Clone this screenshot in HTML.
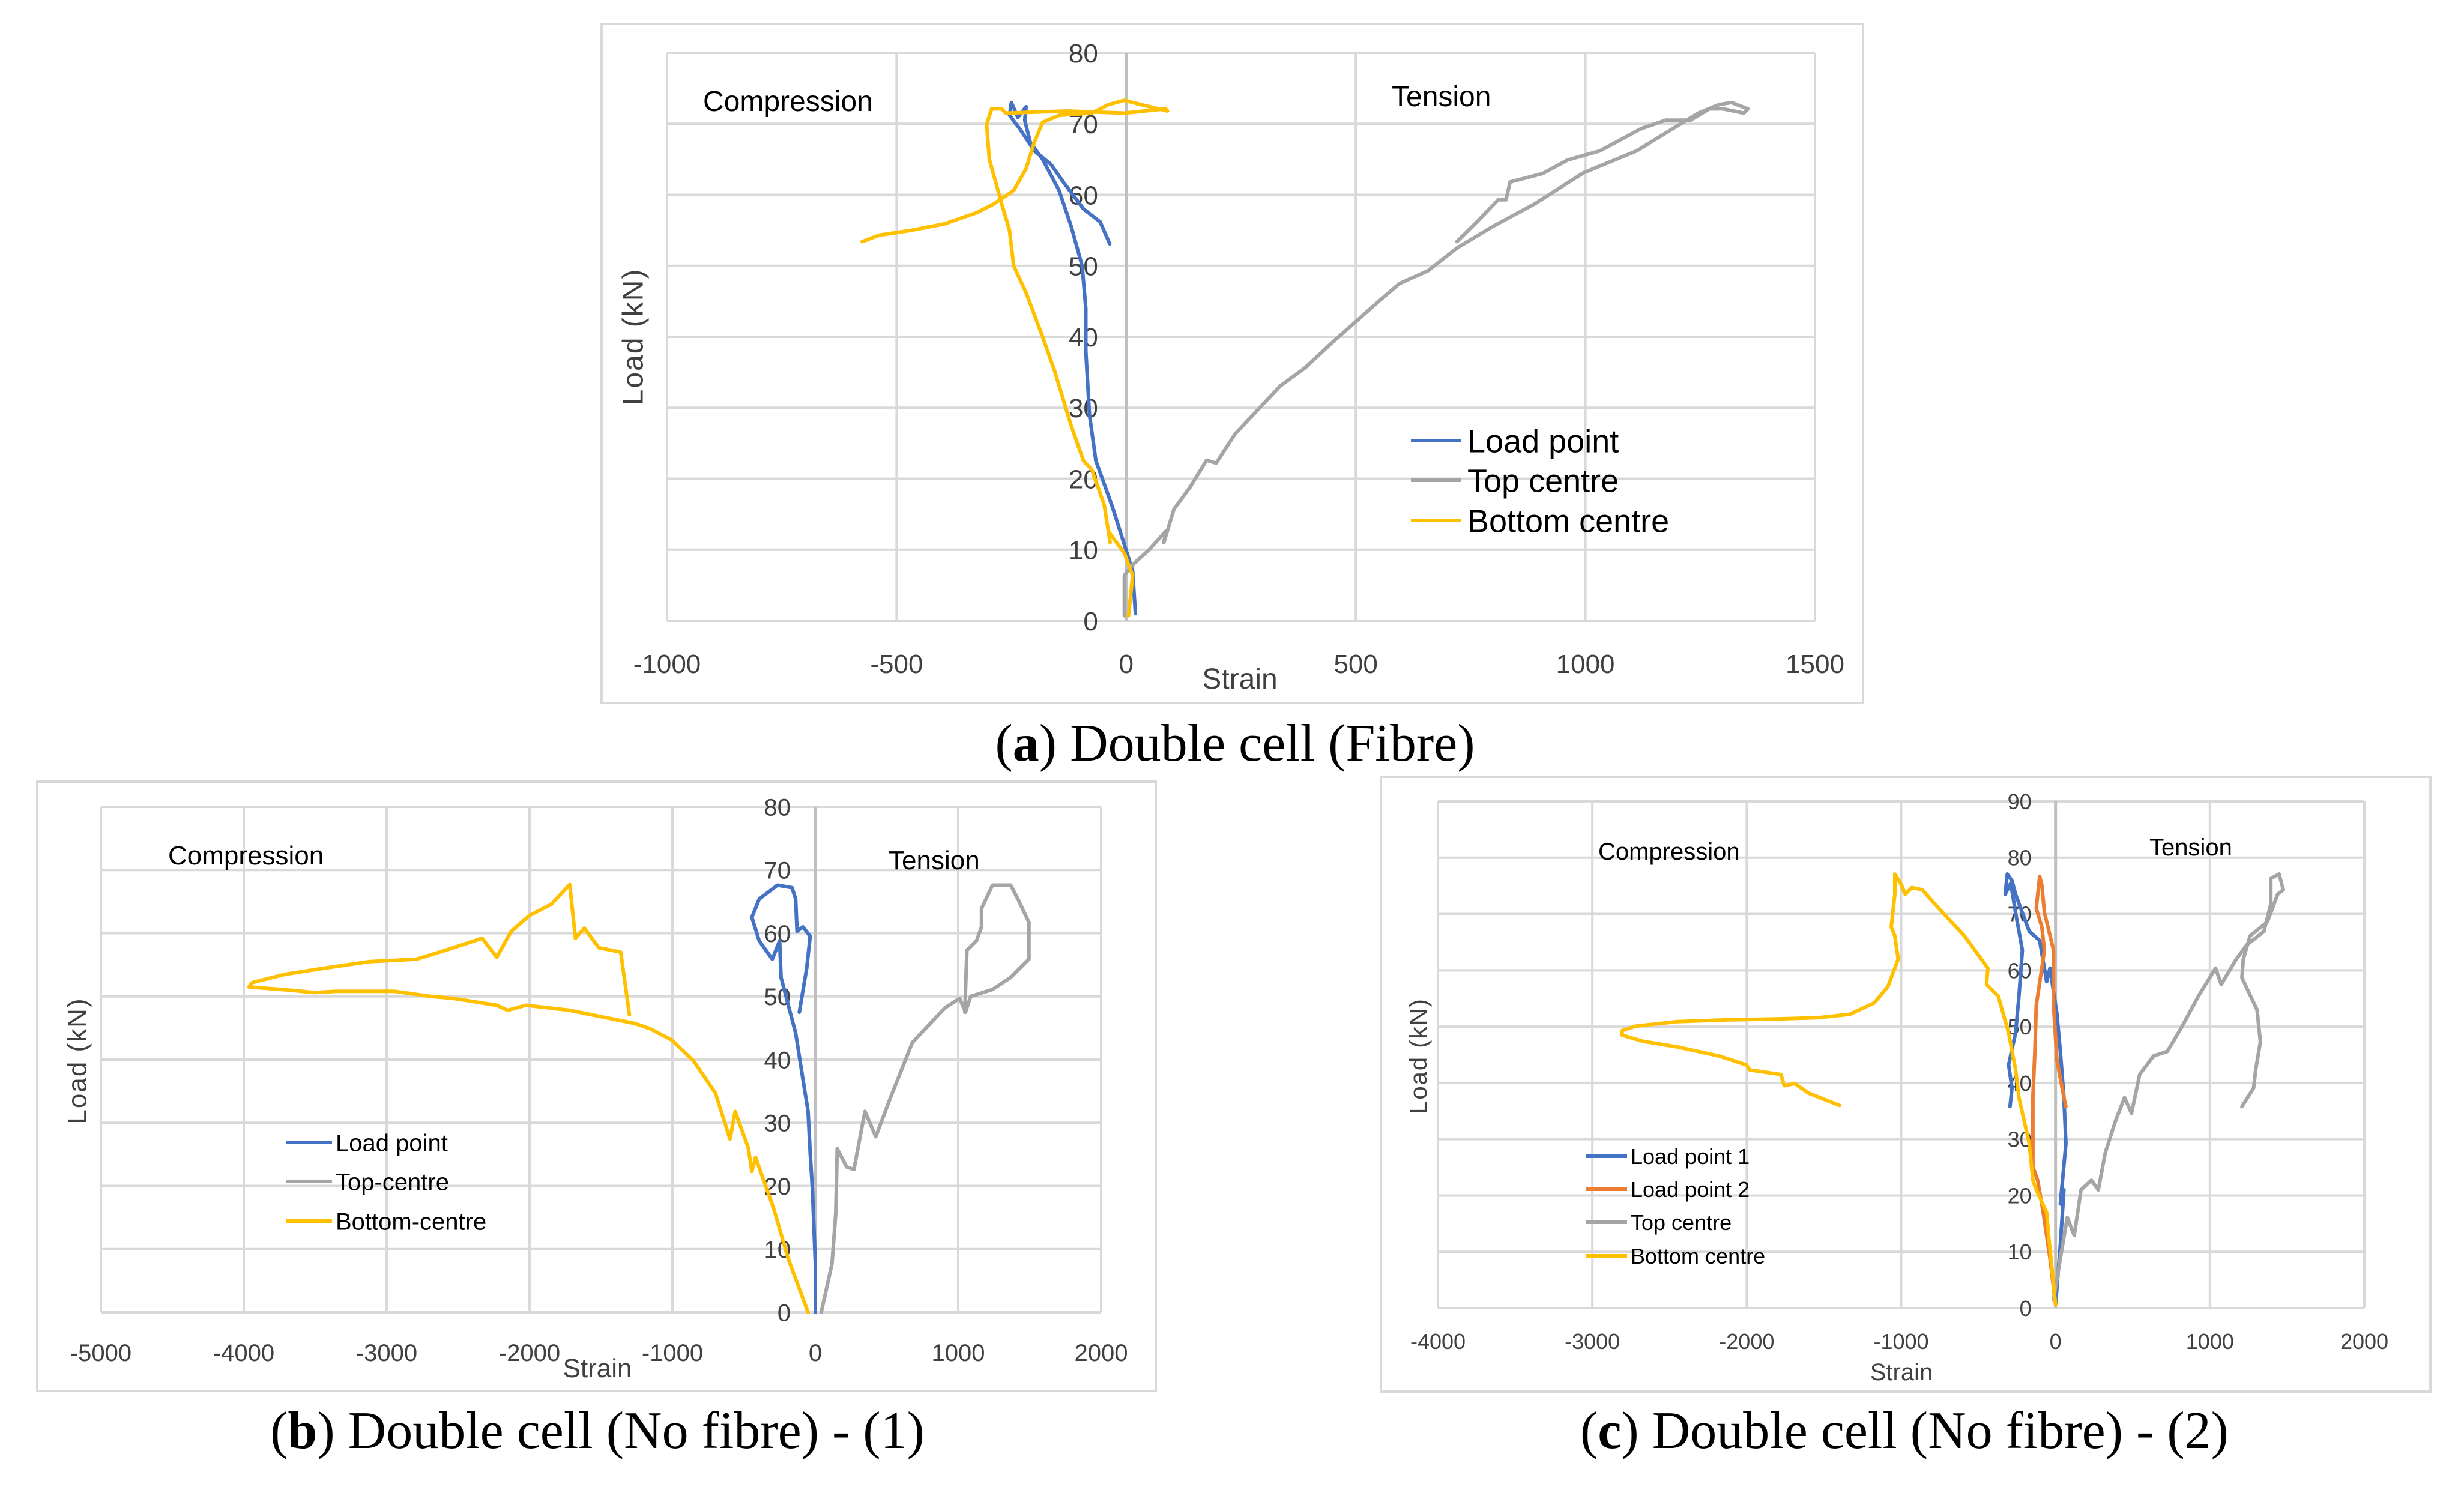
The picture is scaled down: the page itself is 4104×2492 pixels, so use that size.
<!DOCTYPE html>
<html><head><meta charset="utf-8"><style>
html,body{margin:0;padding:0;background:#fff;}
svg{display:block;}
</style></head><body>
<svg id="fig" xmlns="http://www.w3.org/2000/svg" width="4104" height="2492" viewBox="0 0 4104 2492" font-family="Liberation Sans, sans-serif">
<rect x="0" y="0" width="4104" height="2492" fill="#fff"/>
</svg>
<script>
// ---------- Chart (a) data ----------
const aYTicks = [0,10,20,30,40,50,60,70,80];
const aXTicks = [-1000,-500,0,500,1000,1500];
const aLoadPointStrain = [20,14,-30,-66,-80,-88,-88,-96,-120,-146,-182,-209,-221,-218,-236,-250,-254,-232,-200,-164,-137,-93,-57,-36];
const aLoadPointLoad   = [1,7,16,22.5,29,38,44,50,55.6,60.6,65,67.4,70.5,72.4,70.9,73,71.2,69.3,66.2,64.3,61.8,58,56.2,53.1];
const aTopStrain = [-4,-4,14,50,86,82,104,139,175,196,237,282,336,389,452,496,550,595,657,720,800,889,996,1112,1175,1246,1291,1318,1354,1345,1300,1270,1229,1175,1121,1032,961,907,836,827,810,764,720];
const aTopLoad   = [0.7,6.4,7.9,10,12.6,11,15.7,18.8,22.6,22.2,26.3,29.4,33.1,35.6,39.4,41.9,45,47.5,49.3,52.5,55.6,58.7,63.1,66.2,68.7,71.5,72.7,73,72.1,71.5,72.1,72.1,70.5,70.5,69.3,66.2,64.9,63,61.8,59.3,59.3,56.2,53.4];
const aBotStrain = [5,14,-4,-39,-35,-48,-75,-93,-120,-155,-182,-218,-245,-254,-271,-298,-304,-293,-271,-262,-129,-4,86,90,32,-4,-39,-75,-146,-182,-200,-218,-245,-289,-325,-396,-468,-539,-575];
const aBotLoad   = [0.7,6.4,9.5,12.6,11,16.3,21.3,22.5,27.5,35,40,46.2,50,55,58.7,65,69.9,72.1,72.1,71.5,71.8,71.5,72.1,71.8,72.7,73.3,72.7,71.5,71.2,70.2,67.4,63.7,60.6,58.7,57.5,55.9,55,54.3,53.4];

// ---------- Chart (b) data ----------
const bYTicks = [0,10,20,30,40,50,60,70,80];
const bXTicks = [-5000,-4000,-3000,-2000,-1000,0,1000,2000];
const bLoadPointStrain = [0,0,-20,-36,-51,-87,-138,-189,-240,-250,-301,-393,-444,-393,-265,-163,-138,-128,-87,-36,-61,-112];
const bLoadPointLoad   = [0,7.7,19.4,25.2,31.8,36.9,44.2,48.6,53,58.8,55.9,58.8,62.5,65.4,67.6,67.2,65.4,60.3,61,59.5,54.4,47.5];
const bTopStrain = [41,117,143,153,219,270,347,423,526,679,908,1010,1051,1087,1240,1367,1495,1495,1418,1367,1240,1163,1163,1128,1061,1051,1046];
const bTopLoad   = [0,7.7,15.7,25.9,23,22.6,31.8,27.8,34,42.7,48.2,49.7,47.5,50,51.1,53,55.9,61.7,65.4,67.6,67.6,63.9,61,58.8,57.3,50.8,47.5];
const bBotStrain = [-51,-189,-291,-418,-444,-469,-561,-597,-699,-852,-1005,-1158,-1260,-1719,-2026,-2153,-2230,-2536,-2689,-2944,-3352,-3505,-3684,-3964,-3939,-3709,-3454,-3122,-2791,-2587,-2332,-2230,-2128,-2000,-1847,-1719,-1679,-1617,-1515,-1362,-1301];
const bBotLoad   = [0,8.4,16.4,24.5,22.3,26,31.8,27.4,34.7,39.8,43.1,44.9,45.7,47.8,48.6,47.8,48.6,49.7,50,50.8,50.8,50.6,51,51.5,52.2,53.5,54.4,55.5,55.9,57.3,59.2,56.2,60.3,62.8,64.6,67.7,59.2,60.8,57.7,57,47.1];

// ---------- Chart (c) data ----------
const cYTicks = [0,10,20,30,40,50,60,70,80,90];
const cXTicks = [-4000,-3000,-2000,-1000,0,1000,2000];
const cLP1Strain = [0,31,54,31,67,54,31,9,-36,-58,-103,-170,-215,-259,-282,-313,-326,-290,-259,-215,-237,-259,-304,-282,-295];
const cLP1Load   = [0.6,11.2,21,18.5,29.2,37.4,45.6,52.2,60.4,58,65.3,66.9,70.2,73.5,75.9,77.1,73.5,75.5,70.2,63.6,55.4,48.9,43.2,39.1,35.8];
const cLP2Strain = [0,-36,-80,-116,-147,-147,-134,-125,-89,-72,-89,-125,-103,-89,-72,-13,-13,9,54,67];
const cLP2Load   = [0.6,8.8,17,22.7,25.1,37.4,45.6,53.8,60.4,63.6,67.7,71,76.7,75.1,70.2,63.6,53.8,44,37.4,35.8];
const cTopStrain = [-13,31,76,121,165,232,277,322,389,447,492,545,635,724,813,925,1037,1073,1171,1238,1350,1394,1394,1448,1475,1439,1372,1260,1216,1207,1305,1327,1296,1283,1207];
const cTopLoad   = [1.4,8.8,16.1,12.9,21,22.7,21,27.6,33.3,37.4,34.6,41.5,44.8,45.6,49.7,55.4,60.4,57.5,62,64.5,66.9,71.8,76.3,77.1,74.3,73.5,68.6,66.1,62,58.7,53,47.3,42.3,39.1,35.8];
const cBotStrain = [0,-45,-58,-125,-147,-170,-237,-259,-304,-371,-447,-438,-523,-590,-702,-796,-863,-930,-974,-997,-1041,-1041,-1064,-1041,-1019,-1041,-1086,-1175,-1332,-1533,-1765,-2136,-2449,-2717,-2807,-2807,-2673,-2449,-2181,-2002,-1980,-1779,-1757,-1690,-1600,-1399];
const cBotLoad   = [0.6,12.9,17,21,22.7,29.2,37.4,42.3,48.9,55.4,57.5,60.4,63.6,66.1,69.4,72.2,74.3,74.7,73.5,75.1,77.1,73.5,67.7,66.1,62,60.4,57.1,54.2,52.2,51.6,51.4,51.2,50.9,50.1,49.3,48.5,47.4,46.4,44.8,43.2,42.3,41.5,39.5,39.9,38.2,36];

const NS = 'http://www.w3.org/2000/svg';
const svg = document.getElementById('fig');
function mk(tag, attrs, parent, text){
  const e = document.createElementNS(NS, tag);
  for (const k in attrs) e.setAttribute(k, attrs[k]);
  if (text !== undefined) e.textContent = text;
  (parent || svg).appendChild(e);
  return e;
}

function drawChart(cfg){
  const g = mk('g', {});
  
  
  const fr = mk('rect', {x:cfg.frame[0], y:cfg.frame[1], width:cfg.frame[2]-cfg.frame[0], height:cfg.frame[3]-cfg.frame[1], fill:'#fff', stroke:'#d9d9d9', 'stroke-width':4}, g);
  
  
  const xs = v => cfg.px0 + (v - cfg.xmin) / (cfg.xmax - cfg.xmin) * (cfg.px1 - cfg.px0);
  const ys = v => cfg.py0 - (v - cfg.ymin) / (cfg.ymax - cfg.ymin) * (cfg.py0 - cfg.py1);
  cfg.yticks.forEach(t => {
    const l = mk('line', {x1:cfg.px0, x2:cfg.px1, y1:ys(t), y2:ys(t), stroke:'#d9d9d9', 'stroke-width':4}, g);
    
    
  });
  cfg.xticks.forEach(t => {
    const l = mk('line', {x1:xs(t), x2:xs(t), y1:cfg.py0, y2:cfg.py1, stroke: t===0 ? '#bfbfbf' : '#d9d9d9', 'stroke-width': t===0 ? 5 : 4}, g);
    
    
  });
  cfg.yticks.forEach(t => {
    const tx = mk('text', {x:xs(0)-cfg.ylabGap, y:ys(t)+cfg.tickFont*0.36, 'text-anchor':'end', 'font-size':cfg.tickFont, fill:'#404040'}, g, String(t));
    
    
  });
  cfg.xticks.forEach(t => {
    const tx = mk('text', {x:xs(t), y:cfg.xlabBase, 'text-anchor':'middle', 'font-size':cfg.tickFont, fill:'#404040'}, g, String(t));
    
    
  });
  cfg.series.forEach(s => {
    let d = '';
    for (let i = 0; i < s.x.length; i++) d += (i ? 'L' : 'M') + xs(s.x[i]).toFixed(1) + ' ' + ys(s.y[i]).toFixed(1);
    const p = mk('path', {d:d, fill:'none', stroke:s.color, 'stroke-width':6, 'stroke-linejoin':'round', 'stroke-linecap':'round'}, g);
    
    
  });
  const st = mk('text', {x:cfg.strain[0], y:cfg.strain[1], 'text-anchor':'middle', 'font-size':cfg.labFont, fill:'#404040'}, g, 'Strain');
  
  
  const ld = mk('text', {x:0, y:0, 'text-anchor':'middle', 'font-size':cfg.labFont, fill:'#404040', 'letter-spacing':2, transform:'translate('+cfg.load[0]+','+cfg.load[1]+') rotate(-90)', 'dominant-baseline':'central'}, g, 'Load (kN)');
  
  
  const cp = mk('text', {x:cfg.comp[0], y:cfg.comp[1], 'font-size':cfg.labFont, fill:'#000'}, g, 'Compression');
  
  
  const tn = mk('text', {x:cfg.tens[0], y:cfg.tens[1], 'font-size':cfg.labFont, fill:'#000'}, g, 'Tension');
  
  
  const lg = mk('g', {}, g);
  
  
  cfg.series.forEach((s, i) => {
    const y = cfg.legRows[i];
    const ll = mk('line', {x1:cfg.legLine[0], x2:cfg.legLine[1], y1:y, y2:y, stroke:s.color, 'stroke-width':6}, lg);
    
    
    const lt = mk('text', {x:cfg.legText, y:y + cfg.legFont*0.36, 'font-size':cfg.legFont, fill:'#000'}, lg, s.label);
    
    
  });
  const cap = mk('text', {x:cfg.cap[0], y:cfg.cap[1], 'text-anchor':'middle', 'font-size':cfg.capFont, 'font-family':'Liberation Serif, serif', fill:'#000'}, svg);
  
  
  mk('tspan', {}, cap, '(');
  mk('tspan', {'font-weight':'bold'}, cap, cfg.letter);
  mk('tspan', {}, cap, ') ' + cfg.capText);
}

drawChart({
  name:'chart-a-double-cell-fibre', frame:[1002,40,3103,1171],
  px0:1111, px1:3023, py0:1034, py1:88, xmin:-1000, xmax:1500, ymin:0, ymax:80,
  xticks:aXTicks, yticks:aYTicks, tickFont:44, labFont:48, legFont:54,
  ylabGap:47, xlabBase:1121, strain:[2065,1147], load:[1055,561],
  comp:[1171,185], tens:[2318,177],
  legLine:[2350,2434], legText:2444, legRows:[734,800,867],
  cap:[2057,1267], capFont:88, letter:'a', capText:'Double cell (Fibre)',
  series:[
    {id:'load-point-line', label:'Load point', color:'#4472c4', x:aLoadPointStrain, y:aLoadPointLoad},
    {id:'top-centre-line', label:'Top centre', color:'#a5a5a5', x:aTopStrain, y:aTopLoad},
    {id:'bottom-centre-line', label:'Bottom centre', color:'#ffc000', x:aBotStrain, y:aBotLoad}
  ]
});

drawChart({
  name:'chart-b-double-cell-no-fibre-1', frame:[62,1302,1925,2317],
  px0:168, px1:1834, py0:2186, py1:1344, xmin:-5000, xmax:2000, ymin:0, ymax:80,
  xticks:bXTicks, yticks:bYTicks, tickFont:40, labFont:44, legFont:40,
  ylabGap:41, xlabBase:2267, strain:[995,2294], load:[129,1767],
  comp:[280,1440], tens:[1480,1448],
  legLine:[477,553], legText:559, legRows:[1903,1968,2034],
  cap:[995,2412], capFont:88, letter:'b', capText:'Double cell (No fibre) - (1)',
  series:[
    {id:'load-point-line', label:'Load point', color:'#4472c4', x:bLoadPointStrain, y:bLoadPointLoad},
    {id:'top-centre-line', label:'Top-centre', color:'#a5a5a5', x:bTopStrain, y:bTopLoad},
    {id:'bottom-centre-line', label:'Bottom-centre', color:'#ffc000', x:bBotStrain, y:bBotLoad}
  ]
});

drawChart({
  name:'chart-c-double-cell-no-fibre-2', frame:[2300,1294,4048,2318],
  px0:2395, px1:3938, py0:2179, py1:1335, xmin:-4000, xmax:2000, ymin:0, ymax:90,
  xticks:cXTicks, yticks:cYTicks, tickFont:36, labFont:40, legFont:36,
  ylabGap:40, xlabBase:2247, strain:[3167,2299], load:[2363,1759],
  comp:[2662,1432], tens:[3580,1425],
  legLine:[2641,2710], legText:2716, legRows:[1926,1981,2036,2092],
  cap:[3172,2412], capFont:88, letter:'c', capText:'Double cell (No fibre) - (2)',
  series:[
    {id:'load-point-1-line', label:'Load point 1', color:'#4472c4', x:cLP1Strain, y:cLP1Load},
    {id:'load-point-2-line', label:'Load point 2', color:'#ed7d31', x:cLP2Strain, y:cLP2Load},
    {id:'top-centre-line', label:'Top centre', color:'#a5a5a5', x:cTopStrain, y:cTopLoad},
    {id:'bottom-centre-line', label:'Bottom centre', color:'#ffc000', x:cBotStrain, y:cBotLoad}
  ]
});
</script>
</body></html>
